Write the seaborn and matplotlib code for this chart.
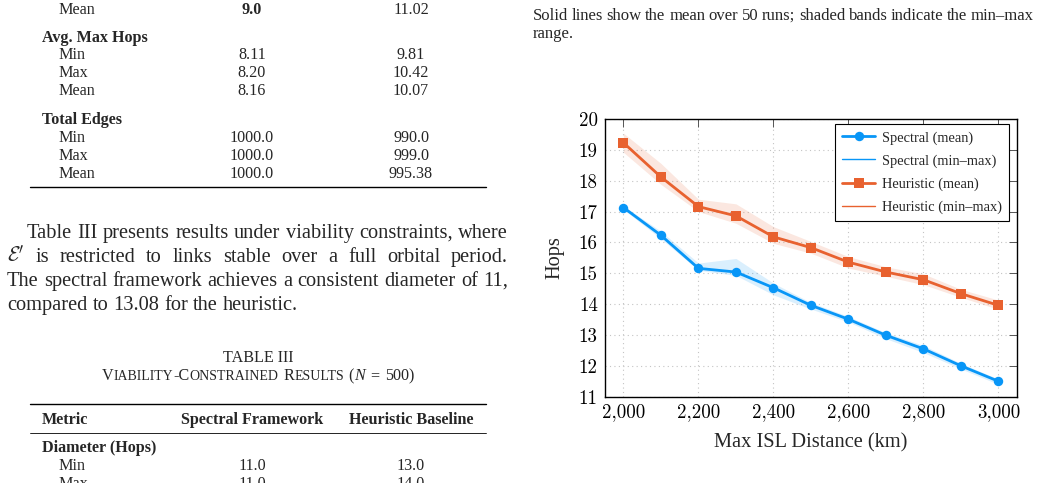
import numpy as np
import pandas as pd
import matplotlib
matplotlib.use("Agg")
import matplotlib.pyplot as plt
import seaborn as sns
from matplotlib.lines import Line2D

# ---------------- data ----------------
distance = [2000, 2100, 2200, 2300, 2400, 2500, 2600, 2700, 2800, 2900, 3000]
spectral_mean = [17.13, 16.23, 15.16, 15.04, 14.53, 13.96, 13.51, 12.99, 12.55, 12.00, 11.50]
spectral_min = [17.07, 16.12, 15.10, 14.93, 14.30, 13.84, 13.42, 12.88, 12.43, 11.90, 11.40]
spectral_max = [17.18, 16.36, 15.33, 15.48, 14.68, 14.05, 13.60, 13.07, 12.66, 12.08, 11.57]
heuristic_mean = [19.23, 18.12, 17.16, 16.86, 16.18, 15.83, 15.36, 15.04, 14.79, 14.34, 13.96]
heuristic_min = [18.92, 17.88, 17.00, 16.62, 15.97, 15.65, 15.17, 14.90, 14.63, 14.22, 13.83]
heuristic_max = [19.54, 18.56, 17.40, 17.25, 16.51, 16.03, 15.54, 15.21, 14.98, 14.48, 14.13]
x_ticks = [2000, 2200, 2400, 2600, 2800, 3000]
y_ticks = [11, 12, 13, 14, 15, 16, 17, 18, 19, 20]
legend_labels = ["Spectral (mean)", "Spectral (min\u2013max)",
                 "Heuristic (mean)", "Heuristic (min\u2013max)"]

# table text (upper part, continuation of previous table)
table2_rows = [
    ("Mean", "9.0", "11.02", False, True),
    ("Avg. Max Hops", "", "", True, False),
    ("Min", "8.11", "9.81", False, False),
    ("Max", "8.20", "10.42", False, False),
    ("Mean", "8.16", "10.07", False, False),
    ("Total Edges", "", "", True, False),
    ("Min", "1000.0", "990.0", False, False),
    ("Max", "1000.0", "999.0", False, False),
    ("Mean", "1000.0", "995.38", False, False),
]
table3_header = ("Metric", "Spectral Framework", "Heuristic Baseline")
table3_rows = [
    ("Diameter (Hops)", "", "", True, False),
    ("Min", "11.0", "13.0", False, False),
    ("Max", "11.0", "14.0", False, False),
]
paragraph = [
    "Table III presents results under viability constraints, where",
    r"$\mathcal{E}'$ is restricted to links stable over a full orbital period.",
    "The spectral framework achieves a consistent diameter of 11,",
    "compared to 13.08 for the heuristic.",
]
caption_right = [
    "Solid lines show the mean over 50 runs; shaded bands indicate the min\u2013max",
    "range.",
]

BLUE = "#0896F7"
ORANGE = "#E8612F"

sns.set_style("white")
plt.rcParams["font.family"] = ["Liberation Serif", "DejaVu Serif"]
plt.rcParams["mathtext.fontset"] = "cm"

W, H = 1041, 483
fig = plt.figure(figsize=(W / 100, H / 100), dpi=100)
renderer = fig.canvas.get_renderer()


def fx(px):
    return px / W


def fy(py):
    return 1 - py / H


def ftext(x, y, s, **kw):
    kw.setdefault("va", "baseline")
    return fig.text(fx(x), fy(y), s, **kw)


def justify(line, x0, x1, y, size, last=False):
    words = line.split(" ")
    texts = [ftext(0, y, w, fontsize=size, ha="left") for w in words]
    widths = [t.get_window_extent(renderer).width for t in texts]
    if last or len(words) == 1:
        sp = size * 100 / 72 * 0.25
    else:
        sp = (x1 - x0 - sum(widths)) / (len(words) - 1)
    x = x0
    for t, w in zip(texts, widths):
        t.set_x(fx(x))
        x += w + sp


def runs(pieces, xc, y):
    texts, widths = [], []
    for s, kw in pieces:
        if isinstance(s, (int, float)):
            texts.append(None)
            widths.append(s)
        else:
            t = ftext(0, y, s, ha="left", **kw)
            texts.append(t)
            widths.append(t.get_window_extent(renderer).width)
    x = xc - sum(widths) / 2
    for t, w in zip(texts, widths):
        if t is not None:
            t.set_x(fx(x))
        x += w


def hrule(y, x0, x1, lw):
    fig.add_artist(Line2D([fx(x0), fx(x1)], [fy(y), fy(y)], color="black",
                          lw=lw, transform=fig.transFigure))


# ---------------- left column: table (continued) ----------------
TS = 11.6
row_y = [14.5, 42.5, 58.8, 77.0, 95.3, 123.6, 142.0, 159.6, 177.6]
for (lab, v1, v2, head, bold_v1), yy in zip(table2_rows, row_y):
    ftext(42 if head else 58, yy, lab, fontsize=TS,
          fontweight="bold" if head else "normal", ha="left")
    if v1:
        ftext(252, yy, v1, fontsize=TS, ha="center",
              fontweight="bold" if bold_v1 else "normal")
    if v2:
        ftext(411, yy, v2, fontsize=TS, ha="center")
hrule(186.7, 30, 486, 1.0)

# paragraph
BS = 14.7
par_y = [238, 262, 286, 310]
justify(paragraph[0], 27, 508, par_y[0], BS)
justify(paragraph[1], 7, 508, par_y[1], BS)
justify(paragraph[2], 7, 508, par_y[2], BS)
justify(paragraph[3], 7, 508, par_y[3], BS, last=True)

# TABLE III caption (small caps emulated)
ftext(258, 362, "TABLE III", fontsize=TS, ha="center")
big = dict(fontsize=TS)
small = dict(fontsize=TS * 0.86)
sp = TS * 100 / 72 * 0.3
runs([("V", big), ("IABILITY", small), ("-C", big), ("ONSTRAINED", small),
      (sp, {}), ("R", big), ("ESULTS", small), (sp, {}), ("(", big),
      ("N", dict(fontsize=TS, style="italic")), (sp * 1.1, {}), ("=", big),
      (sp * 1.1, {}), ("500)", big)], 258, 380.5)

hrule(404, 30, 486, 1.0)
ftext(42, 424.5, table3_header[0], fontsize=TS, fontweight="bold", ha="left")
ftext(252, 424.5, table3_header[1], fontsize=TS, fontweight="bold", ha="center")
ftext(411, 424.5, table3_header[2], fontsize=TS, fontweight="bold", ha="center")
hrule(433, 30, 486, 0.6)
for (lab, v1, v2, head, _), yy in zip(table3_rows, [452.5, 470.5, 488.5]):
    ftext(42 if head else 58, yy, lab, fontsize=TS,
          fontweight="bold" if head else "normal", ha="left")
    if v1:
        ftext(252, yy, v1, fontsize=TS, ha="center")
    if v2:
        ftext(411, yy, v2, fontsize=TS, ha="center")

# ---------------- right column: caption ----------------
CS = 12.0
justify(caption_right[0], 533, 1034, 19.5, CS)
justify(caption_right[1], 533, 1034, 37.5, CS, last=True)

# ---------------- chart ----------------
ax_l, ax_r, ax_t, ax_b = 604.7, 1016.5, 119.0, 396.7
ax = fig.add_axes([fx(ax_l), fy(ax_b), (ax_r - ax_l) / W, (ax_b - ax_t) / H])

ax.fill_between(distance, spectral_min, spectral_max, color=BLUE, alpha=0.15,
                lw=0, zorder=1)
ax.fill_between(distance, heuristic_min, heuristic_max, color=ORANGE, alpha=0.15,
                lw=0, zorder=1)

df = pd.DataFrame({
    "distance": distance * 2,
    "hops": spectral_mean + heuristic_mean,
    "method": ["Spectral"] * len(distance) + ["Heuristic"] * len(distance),
})
sns.lineplot(data=df, x="distance", y="hops", hue="method", style="method",
             markers={"Spectral": "o", "Heuristic": "s"}, dashes=False,
             palette={"Spectral": BLUE, "Heuristic": ORANGE},
             lw=2.0, markersize=6.8, markeredgewidth=0, legend=False,
             ax=ax, zorder=3)

ax.set_xlim(1950, 3048)
ax.set_ylim(11, 20)
ax.set_xticks(x_ticks, labels=[f"{v:,}" for v in x_ticks], fontfamily="cmr10")
ax.set_yticks(y_ticks, labels=[str(v) for v in y_ticks], fontfamily="cmr10")
ax.tick_params(direction="in", length=6, width=0.7, colors="#555555",
               labelcolor="black", labelsize=13.6, top=True, right=True)
ax.tick_params(axis="y", pad=5)
ax.tick_params(axis="x", pad=5)
ax.grid(True, linestyle=(0, (1, 3)), color="#c4c4c4", lw=0.8)
ax.set_axisbelow(True)
for s in ax.spines.values():
    s.set_color("black")
    s.set_linewidth(1.0)

ax.set_xlabel("Max ISL Distance (km)", fontsize=14.7, va="center")
ax.set_ylabel("Hops", fontsize=14.7, va="center", ha="center")
ax.xaxis.set_label_coords(0.5, (ax_b - 443) / (ax_b - ax_t))
ax.yaxis.set_label_coords((555 - ax_l) / (ax_r - ax_l), (ax_b - 258) / (ax_b - ax_t))

handles = [
    Line2D([], [], color=BLUE, lw=2.0, marker="o", ms=6.8, mew=0),
    Line2D([], [], color=BLUE, lw=1.0),
    Line2D([], [], color=ORANGE, lw=2.0, marker="s", ms=6.8, mew=0),
    Line2D([], [], color=ORANGE, lw=1.0),
]
leg = ax.legend(handles, legend_labels, loc="upper right",
                bbox_to_anchor=((1009 - ax_l) / (ax_r - ax_l), 1 - (124 - ax_t) / (ax_b - ax_t)),
                borderaxespad=0, fontsize=10.4, frameon=True, fancybox=False,
                edgecolor="black", framealpha=1, handlelength=2.3,
                handletextpad=0.45, labelspacing=0.66, borderpad=0.5)
leg.get_frame().set_linewidth(0.8)

fig.savefig("out.png", dpi=100)
